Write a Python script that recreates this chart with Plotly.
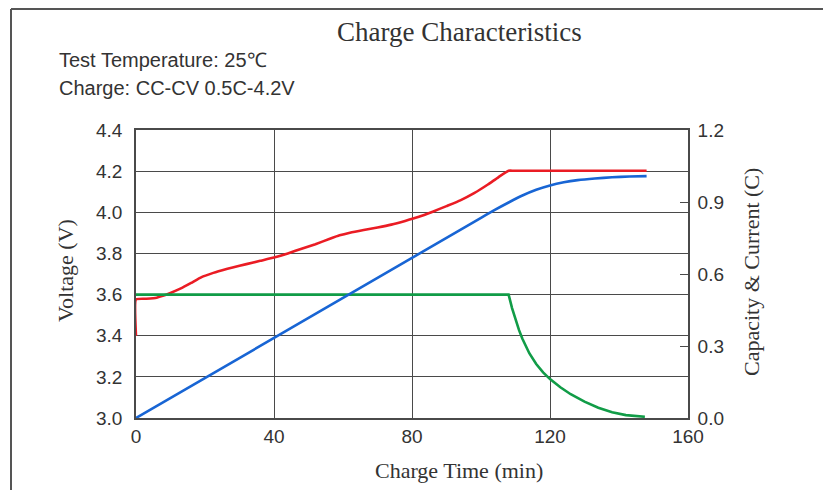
import plotly.graph_objects as go

# ---- data ----
voltage_t = [0, 0, 3, 6, 8, 10, 13, 16, 19, 22, 25, 28, 32, 36, 40, 44, 48, 52, 56, 59,
             62, 66, 70, 74, 78, 82, 86, 90, 94, 98, 102, 105, 108, 109.5, 148]
voltage_v = [3.40, 3.577, 3.580, 3.585, 3.595, 3.608, 3.630, 3.657, 3.685, 3.703, 3.718,
             3.732, 3.748, 3.764, 3.780, 3.800, 3.823, 3.845, 3.870, 3.888, 3.901, 3.914,
             3.926, 3.940, 3.958, 3.978, 4.003, 4.030, 4.058, 4.093, 4.135, 4.170, 4.202,
             4.202, 4.202]

capacity_t = [0, 100, 104, 108, 112, 116, 120, 124, 128, 133, 138, 143, 148]
capacity_c = [0.0, 0.834, 0.867, 0.898, 0.927, 0.951, 0.969, 0.982, 0.991, 0.998, 1.003, 1.006, 1.008]

current_t = [0, 108, 109, 110, 111, 112, 113, 114, 116, 118, 120, 123, 126, 130, 134,
             138, 142, 145, 147.5]
current_c = [0.514, 0.514, 0.458, 0.410, 0.367, 0.330, 0.298, 0.270, 0.225, 0.190, 0.162,
             0.128, 0.099, 0.068, 0.043, 0.024, 0.012, 0.007, 0.005]

x_ticks = [0, 40, 80, 120, 160]
v_ticks = [3.0, 3.2, 3.4, 3.6, 3.8, 4.0, 4.2, 4.4]
c_ticks = [0.0, 0.3, 0.6, 0.9, 1.2]

# ---- figure (page coordinates, page body has an 8px margin) ----
OFF = 8
W, H = 831, 490
PX0, PX1, PY0, PY1 = 136, 688, 130, 418          # plot area in page pixels
L, T = PX0 - OFF, PY0 - OFF
R, B = W - (PX1 - OFF), H - (PY1 - OFF)
pw, ph = PX1 - PX0, PY1 - PY0

def px(x):
    return (x - PX0) / pw

def py(y):
    return (PY1 - y) / ph

GRID = "#4a4a4a"
SANS = "Liberation Sans, Arial, sans-serif"
SERIF = "Liberation Serif, Times New Roman, serif"
TXT = "#333333"

fig = go.Figure()
fig.add_trace(go.Scatter(x=current_t, y=current_c, yaxis="y2", mode="lines",
                         line=dict(color="#119c47", width=2.6), hoverinfo="skip"))
fig.add_trace(go.Scatter(x=capacity_t, y=capacity_c, yaxis="y2", mode="lines",
                         line=dict(color="#1865d4", width=2.6, shape="spline", smoothing=0.6),
                         hoverinfo="skip"))
fig.add_trace(go.Scatter(x=voltage_t, y=voltage_v, mode="lines",
                         line=dict(color="#ea1c24", width=2.6, shape="spline", smoothing=0.4),
                         hoverinfo="skip"))

fig.update_layout(
    width=W, height=H, autosize=False,
    margin=dict(l=L, r=R, t=T, b=B, pad=0),
    paper_bgcolor="white", plot_bgcolor="white",
    showlegend=False,
    xaxis=dict(range=[0, 160], tickvals=x_ticks, ticks="", showgrid=True,
               gridcolor=GRID, gridwidth=1.3, showline=True, linecolor=GRID,
               linewidth=1.6, mirror=True, zeroline=False,
               tickfont=dict(family=SANS, size=19, color=TXT), fixedrange=True),
    yaxis=dict(range=[3.0, 4.4], tickvals=v_ticks, tickformat=".1f", ticks="",
               showgrid=True, gridcolor=GRID, gridwidth=1.3, showline=True,
               linecolor=GRID, linewidth=1.6, zeroline=False, ticklabelstandoff=8,
               tickfont=dict(family=SANS, size=19, color=TXT), fixedrange=True),
    yaxis2=dict(range=[0, 1.2], tickvals=c_ticks, tickformat=".1f", overlaying="y",
                side="right", ticks="inside", ticklen=8, tickcolor=GRID, tickwidth=1.3,
                showgrid=False, showline=True, linecolor=GRID, linewidth=1.6,
                zeroline=False, ticklabelstandoff=4,
                tickfont=dict(family=SANS, size=19, color=TXT), fixedrange=True),
    shapes=[
        dict(type="line", xref="paper", yref="paper", x0=px(11), x1=px(840),
             y0=py(9), y1=py(9), line=dict(color="#555", width=2)),
        dict(type="line", xref="paper", yref="paper", x0=px(11), x1=px(11),
             y0=py(9), y1=py(500), line=dict(color="#555", width=2)),
    ],
    annotations=[
        dict(text="Charge Characteristics", xref="paper", yref="paper",
             x=px(459), y=py(32), showarrow=False, xanchor="center", yanchor="middle",
             font=dict(family=SERIF, size=27, color=TXT)),
        dict(text="Test Temperature: 25℃", xref="paper", yref="paper",
             x=px(57), y=py(60), showarrow=False, xanchor="left", yanchor="middle",
             font=dict(family=SANS, size=20, color=TXT)),
        dict(text="Charge: CC-CV 0.5C-4.2V", xref="paper", yref="paper",
             x=px(57), y=py(88), showarrow=False, xanchor="left", yanchor="middle",
             font=dict(family=SANS, size=20, color=TXT)),
        dict(text="Voltage (V)", xref="paper", yref="paper",
             x=px(65), y=py(271), showarrow=False, textangle=-90,
             xanchor="center", yanchor="middle",
             font=dict(family=SERIF, size=22, color=TXT)),
        dict(text="Capacity & Current (C)", xref="paper", yref="paper",
             x=px(751), y=py(272), showarrow=False, textangle=-90,
             xanchor="center", yanchor="middle",
             font=dict(family=SERIF, size=22, color=TXT)),
        dict(text="Charge Time (min)", xref="paper", yref="paper",
             x=px(459), y=py(470), showarrow=False, xanchor="center", yanchor="middle",
             font=dict(family=SERIF, size=22, color=TXT)),
    ],
)

fig.write_html("out.html", config={"displayModeBar": False})
